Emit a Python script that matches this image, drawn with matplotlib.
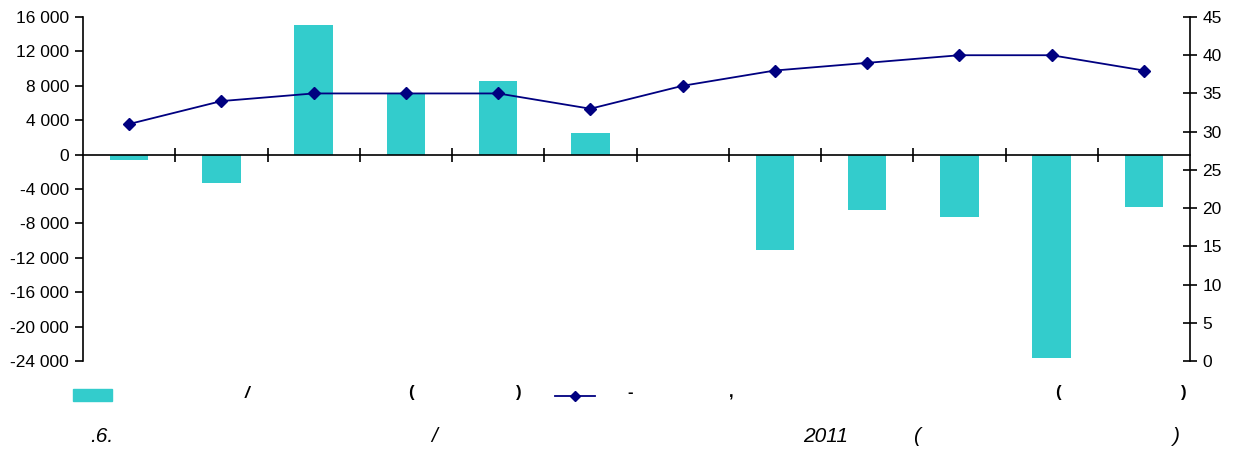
import matplotlib.pyplot as plt
from matplotlib.patches import Rectangle
from matplotlib.lines import Line2D
import numpy as np

plt.rcParams['font.family'] = ['Liberation Sans', 'DejaVu Sans']

# data
months = np.arange(1, 13)
bar_values = [-600, -3250, 15100, 7200, 8600, 2550, 0, -11050, -6400, -7200, -23600, -6150]
line_values = [31, 34, 35, 35, 35, 33, 36, 38, 39, 40, 40, 38]
left_ticks = [16000, 12000, 8000, 4000, 0, -4000, -8000, -12000, -16000, -20000, -24000]
right_ticks = [0, 5, 10, 15, 20, 25, 30, 35, 40, 45]

bar_color = '#33CCCC'
line_color = '#000080'

W, H = 1234, 450
fig = plt.figure(figsize=(W / 100, H / 100), dpi=100)
ax = fig.add_axes([83 / W, 1 - 361 / H, (1190 - 83) / W, (361 - 17) / H])
ax2 = ax.twinx()

ax.bar(months, bar_values, width=0.42, color=bar_color, zorder=2)
ax.set_xlim(0.5, 12.5)
ax.set_ylim(-24000, 16000)
ax.set_yticks(left_ticks)
ax.set_yticklabels([f'{v:,}'.replace(',', ' ') for v in left_ticks], fontsize=12.5)
ax.tick_params(axis='y', direction='out', length=6, width=1.2, pad=4)

ax.spines['top'].set_visible(False)
ax.spines['right'].set_visible(False)
ax.spines['bottom'].set_position(('data', 0))
ax.spines['left'].set_linewidth(1.2)
ax.spines['bottom'].set_linewidth(1.2)
ax.set_xticks(np.arange(1.5, 12.5, 1))
ax.set_xticklabels([])
ax.tick_params(axis='x', direction='inout', length=10, width=1.2)

ax2.plot(months, line_values, color=line_color, marker='D', markersize=6, linewidth=1.3, zorder=3)
ax2.set_ylim(0, 45)
ax2.set_yticks(right_ticks)
ax2.set_yticklabels([str(v) for v in right_ticks], fontsize=12.5)
ax2.tick_params(axis='y', direction='inout', length=10, width=1.2, pad=4)
for s in ['top', 'left', 'bottom']:
    ax2.spines[s].set_visible(False)
ax2.spines['right'].set_linewidth(1.2)

# legend row
fig.patches.append(Rectangle((73 / W, 1 - 401 / H), 39 / W, 12 / H,
                             transform=fig.transFigure, color=bar_color))
fig.lines.append(Line2D([555 / W, 595 / W], [1 - 396 / H, 1 - 396 / H],
                        transform=fig.transFigure, color=line_color, linewidth=1.3))
fig.lines.append(Line2D([575 / W], [1 - 396 / H], transform=fig.transFigure,
                        color=line_color, marker='D', markersize=5, linestyle='none'))

legend_bits = [(247, '/'), (411, '('), (519, ')'), (630, '-'), (731, ','), (1058, '('), (1184, ')')]
for x, s in legend_bits:
    fig.text(x / W, 1 - 393 / H, s, ha='center', va='center', fontsize=12,
             fontweight='bold', style='italic' if s == '/' else 'normal')

caption_bits = [(102, '.6.'), (434, '/'), (826, '2011'), (917, '('), (1176, ')')]
for x, s in caption_bits:
    fig.text(x / W, 1 - 436 / H, s, ha='center', va='center', fontsize=15, style='italic')

fig.savefig('out.png', dpi=100)
